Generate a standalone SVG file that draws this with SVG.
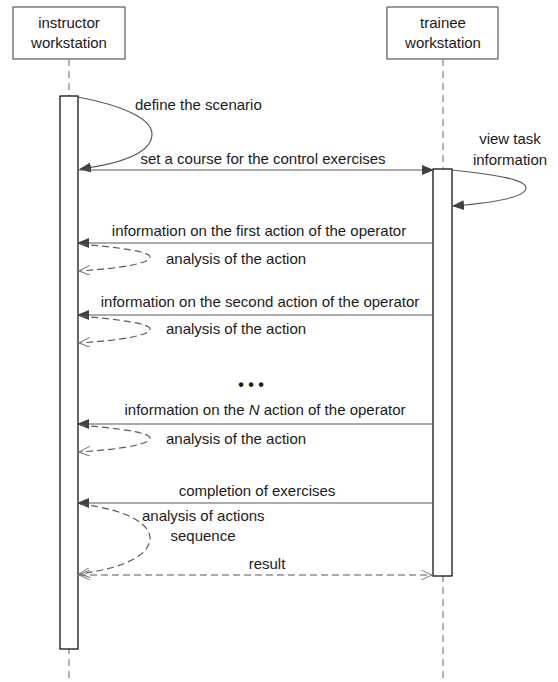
<svg xmlns="http://www.w3.org/2000/svg" width="558" height="682" viewBox="0 0 558 682">
<defs>
<style>
text{font-family:"Liberation Sans",Arial,sans-serif;font-size:15px;fill:#1a1a1a}
.c{text-anchor:middle}
.head{fill:#fff;stroke:#595959;stroke-width:1.2}
.life{stroke:#808080;stroke-width:1.2;stroke-dasharray:7,5;fill:none}
.act{fill:#fff;stroke:#000;stroke-width:1.2}
.msg{stroke:#595959;stroke-width:1.2;fill:none}
.ret{stroke:#595959;stroke-width:1.2;fill:none;stroke-dasharray:7,4}
</style>
<marker id="fa" viewBox="0 0 12 10" refX="11" refY="5" markerWidth="12" markerHeight="10" markerUnits="userSpaceOnUse" orient="auto-start-reverse">
<path d="M0,0 L12,5 L0,10 z" fill="#404040"/>
</marker>
<marker id="oa" viewBox="0 0 12 10" refX="11" refY="5" markerWidth="12" markerHeight="10" markerUnits="userSpaceOnUse" orient="auto-start-reverse">
<path d="M0,0 L11,5 L0,10" fill="none" stroke="#808080" stroke-width="1"/>
</marker>
</defs>
<rect width="558" height="682" fill="#fff"/>
<g id="instructor">
<rect class="head" x="13" y="7" width="112" height="52"/>
<text class="c" x="69" y="28">instructor</text>
<text class="c" x="69" y="48">workstation</text>
<line class="life" x1="69" y1="59" x2="69" y2="682"/>
<rect class="act" x="60" y="96" width="18" height="553"/>
</g>
<g id="trainee">
<rect class="head" x="387" y="7" width="111" height="52"/>
<text class="c" x="443" y="28">trainee</text>
<text class="c" x="443" y="48">workstation</text>
<line class="life" x1="443" y1="59" x2="443" y2="682"/>
<rect class="act" x="433" y="169" width="19" height="407"/>
</g>
<g id="connectors">
<path class="msg" d="M78,97 C120,105 152,118 152,134 C152,152 125,163 80,169" marker-end="url(#fa)"/>
<line class="msg" x1="78" y1="170" x2="433" y2="170" marker-end="url(#fa)"/>
<path class="msg" d="M452,170 C500,175 526,180 526,188 C526,198 490,203 453,206" marker-end="url(#fa)"/>
<line class="msg" x1="433" y1="243" x2="78" y2="243" marker-end="url(#fa)"/>
<path class="ret" d="M80,244 C125,248 150,252 150,257 C150,263 125,268 79,271" marker-end="url(#oa)"/>
<line class="msg" x1="433" y1="315" x2="78" y2="315" marker-end="url(#fa)"/>
<path class="ret" d="M80,316 C125,320 150,324 150,329 C150,335 125,340 79,343" marker-end="url(#oa)"/>
<line class="msg" x1="433" y1="424" x2="78" y2="424" marker-end="url(#fa)"/>
<path class="ret" d="M80,425 C125,429 150,433 150,438 C150,444 125,449 79,452" marker-end="url(#oa)"/>
<line class="msg" x1="433" y1="503" x2="78" y2="503" marker-end="url(#fa)"/>
<path class="ret" d="M80,504 C130,510 150,525 150,538 C150,555 125,568 79,574" marker-end="url(#oa)"/>
<line class="ret" x1="79" y1="575" x2="432" y2="575" marker-start="url(#oa)" marker-end="url(#oa)"/>
</g>
<g id="labels">
<text x="135" y="110">define the scenario</text>
<text class="c" x="263" y="164">set a course for the control exercises</text>
<text class="c" x="510" y="144">view task</text>
<text class="c" x="510" y="165">information</text>
<text class="c" x="259" y="236">information on the first action of the operator</text>
<text x="166" y="264">analysis of the action</text>
<text class="c" x="260" y="307">information on the second action of the operator</text>
<text x="166" y="334">analysis of the action</text>
<text class="c" x="251" y="390" style="font-size:16px;font-weight:bold">• • •</text>
<text class="c" x="265" y="415">information on the <tspan font-style="italic">N</tspan> action of the operator</text>
<text x="166" y="444">analysis of the action</text>
<text class="c" x="257" y="496">completion of exercises</text>
<text x="142" y="521">analysis of actions</text>
<text class="c" x="203" y="541">sequence</text>
<text class="c" x="267" y="569">result</text>
</g>
</svg>
